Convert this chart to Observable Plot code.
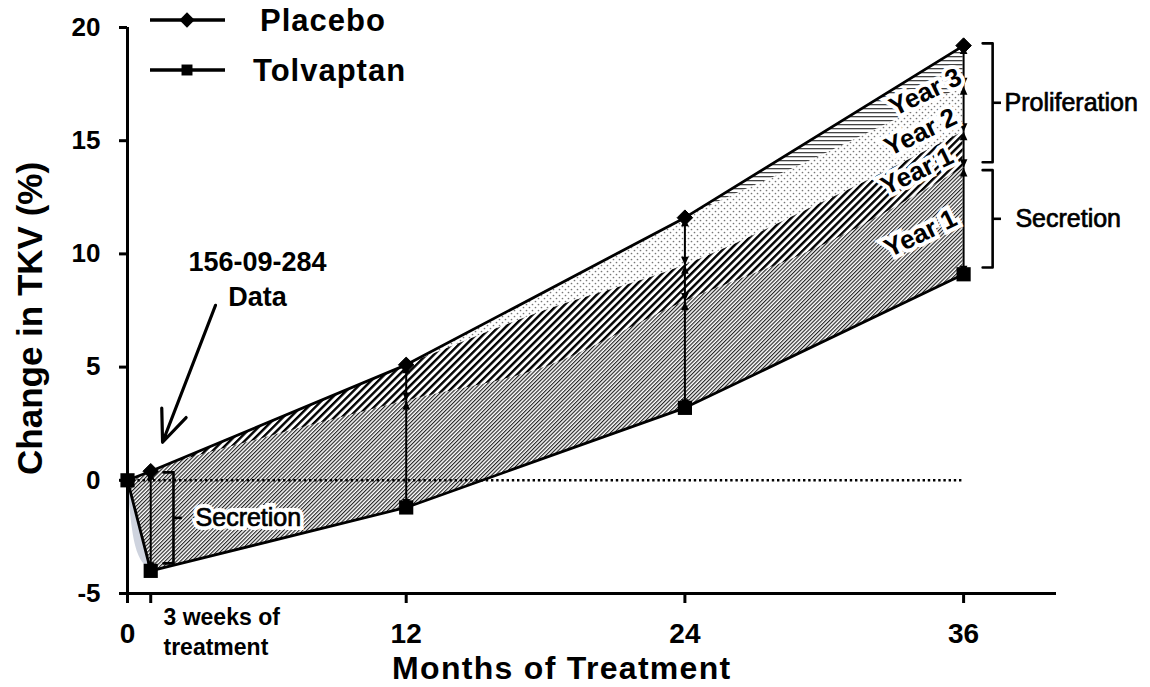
<!DOCTYPE html>
<html><head><meta charset="utf-8">
<script src="https://cdn.jsdelivr.net/npm/d3@7"></script>
<script src="https://cdn.jsdelivr.net/npm/@observablehq/plot@0.6"></script>
<style>
body{margin:0;background:#fff}
#chart svg{font-family:"Liberation Sans",Arial,sans-serif;}
</style></head><body><div id="chart"></div>
<script>
// ---- series ----
const visitMonths = [0, 1, 12, 24, 36];
const placebo = [0, 0.4, 5.1, 11.6, 19.2];
const tolvaptan = [0, -4.0, -1.2, 3.2, 9.1];

// boundaries between the shaded components
const secretionMonths = [0, 1, 6, 12, 18, 24, 30, 36];
const secretionTop = [0, 0.4, 1.9, 3.5, 5.0, 7.9, 10.4, 13.8];
const year1Months = [1, 6, 12, 18, 24, 30, 36];
const year1Top = [0.4, 2.6, 5.1, 7.5, 9.5, 12.3, 15.4];
const year2Months = [12, 18, 24, 30, 36];
const year2Top = [5.1, 8.4, 11.6, 14.4, 17.4];
const year3Months = [24, 36];
const year3Top = [11.6, 19.2];
const shadeMonths = [0, 0.35, 1];
const shadeLow = [0, -2.9, -4.0];
const shadeHigh = [0, -1.4, -4.0];

const xTicks = [0, 1, 12, 24, 36];
const yTicks = [-5, 0, 5, 10, 15, 20];

// vertical double arrows
const arrowX = [1, 12, 12, 24, 24, 24, 36, 36, 36, 36];
const arrowFrom = [-4.0, -1.2, 3.5, 3.2, 7.9, 9.5, 9.1, 13.8, 15.4, 17.4];
const arrowTo = [0.4, 3.5, 5.1, 7.9, 9.5, 11.6, 13.8, 15.4, 17.4, 19.2];

// brackets
const bracketX = [37.25, 37.25, 1.98];
const bracketTop = [19.3, 13.7, 0.35];
const bracketBottom = [14.05, 9.4, -3.67];
const bracketLabels = ["Proliferation", "Secretion", "Secretion"];
const bracketLabelX = [37.76, 38.23, 2.93];

// year labels
const yearLabels = ["Year 3", "Year 2", "Year 1", "Year 1"];
const yearLabelX = [34.36, 34.15, 34.0, 34.15];
const yearLabelY = [17.14, 15.37, 13.65, 10.9];

// data annotation
const noteLines = ["156-09-284", "Data"];
const noteX = [5.6, 5.6];
const noteY = [9.63, 8.08];
const noteArrow = {x1: 3.79, y1: 7.73, x2: 1.51, y2: 1.68};

const legendLabels = ["Placebo", "Tolvaptan"];

// ---- build ----
const FLOOR = -5, CEIL = 20, XMAX = 40;
const rows = (xs, ys) => xs.map((x, i) => ({x, y: ys[i]}));
const band = (xs, lo, hi) => xs.map((x, i) => ({x, y1: Array.isArray(lo) ? lo[i] : lo, y2: Array.isArray(hi) ? hi[i] : hi}));

const arrowSegs = arrowX.map((x, i) => ({x, from: arrowFrom[i], to: arrowTo[i]}));
const headUp = {draw(ctx, size) { const s = Math.sqrt(size); ctx.moveTo(0, 0); ctx.lineTo(-0.45 * s, s); ctx.lineTo(0.45 * s, s); ctx.closePath(); }};
const headDown = {draw(ctx, size) { const s = Math.sqrt(size); ctx.moveTo(0, 0); ctx.lineTo(-0.45 * s, -s); ctx.lineTo(0.45 * s, -s); ctx.closePath(); }};

const CAP = 0.43, MID = 0.36;
const bracketPaths = [];
bracketX.forEach((x, i) => {
  [[x - CAP, bracketTop[i]], [x, bracketTop[i]], [x, bracketBottom[i]], [x - CAP, bracketBottom[i]]]
    .forEach(([px, py]) => bracketPaths.push({b: i, x: px, y: py}));
});
const bracketMids = bracketX.map((x, i) => ({x1: x, x2: x + MID, y: (bracketTop[i] + bracketBottom[i]) / 2, label: bracketLabels[i], lx: bracketLabelX[i], boxed: i === 2}));

const font = '"Liberation Sans", Arial, sans-serif';

const chart = Plot.plot({
  width: 1150, height: 687,
  marginLeft: 127, marginRight: 94, marginTop: 27, marginBottom: 94,
  x: {domain: [0, XMAX]},
  y: {domain: [FLOOR, CEIL]},
  style: {fontFamily: font, background: "white", color: "black"},
  marks: [
    Plot.areaY(band(year3Months, FLOOR, year3Top), {x: "x", y1: "y1", y2: "y2", fill: "url(#pH)"}),
    Plot.areaY(band(year2Months, FLOOR, year2Top), {x: "x", y1: "y1", y2: "y2", fill: "url(#pDots)", curve: "monotone-x"}),
    Plot.areaY(band(year1Months, FLOOR, year1Top), {x: "x", y1: "y1", y2: "y2", fill: "url(#pBold)", curve: "monotone-x"}),
    Plot.areaY(band(secretionMonths, FLOOR, secretionTop), {x: "x", y1: "y1", y2: "y2", fill: "url(#pFine)", curve: "monotone-x"}),
    // white masks outside the placebo / tolvaptan envelope
    Plot.areaY(band(visitMonths, placebo, CEIL), {x: "x", y1: "y1", y2: "y2", fill: "white"}),
    Plot.areaY(band(visitMonths, FLOOR, tolvaptan), {x: "x", y1: "y1", y2: "y2", fill: "white"}),
    Plot.rect([{x1: visitMonths[visitMonths.length - 1], x2: XMAX}], {x1: "x1", x2: "x2", y1: FLOOR, y2: CEIL, fill: "white", inset: -0.5}),
    Plot.areaY(band(shadeMonths, shadeLow, shadeHigh), {x: "x", y1: "y1", y2: "y2", fill: "#b9c0d0", fillOpacity: 0.7, curve: "natural"}),
    Plot.ruleY([0], {x1: 0, x2: 36, stroke: "black", strokeWidth: 2.4, strokeDasharray: "2.4 2.8"}),
    // axes
    Plot.ruleX([0], {y1: FLOOR, y2: CEIL, stroke: "black", strokeWidth: 3}),
    Plot.ruleY([FLOOR], {x1: 0, x2: XMAX, stroke: "black", strokeWidth: 3}),
    Plot.axisY({ticks: yTicks, tickSize: 8, tickPadding: 19, fontSize: 26, fontWeight: "bold", strokeWidth: 3, tickFormat: d => String(d), label: null}),
    Plot.axisX({ticks: xTicks, tickSize: 10, tickPadding: 20, fontSize: 28, fontWeight: "bold", strokeWidth: 3, tickFormat: d => d === 1 ? "" : String(d), label: null}),
    // vertical double arrows
    Plot.ruleX(arrowSegs, {x: "x", y1: "from", y2: "to", stroke: "black", strokeWidth: 2}),
    Plot.dot(arrowSegs, {x: "x", y: "to", symbol: headUp, r: 4.8, fill: "black", stroke: "none"}),
    Plot.dot(arrowSegs, {x: "x", y: "from", symbol: headDown, r: 4.8, fill: "black", stroke: "none"}),
    // series lines and markers
    Plot.line(rows(visitMonths, placebo), {x: "x", y: "y", stroke: "black", strokeWidth: 2.8}),
    Plot.line(rows(visitMonths, tolvaptan), {x: "x", y: "y", stroke: "black", strokeWidth: 2.8}),
    Plot.dot(rows(visitMonths, placebo), {x: "x", y: "y", symbol: "diamond2", r: 7, fill: "black", stroke: "black", strokeWidth: 1}),
    Plot.dot(rows(visitMonths, tolvaptan), {x: "x", y: "y", symbol: "square", r: 8, fill: "black"}),
    // brackets
    Plot.line(bracketPaths, {x: "x", y: "y", z: "b", stroke: "black", strokeWidth: 2.6, curve: "linear"}),
    Plot.link(bracketMids, {x1: "x1", x2: "x2", y1: "y", y2: "y", stroke: "black", strokeWidth: 2.6}),
    Plot.text(bracketMids.filter(d => d.boxed), {x: "lx", y: "y", text: "label", textAnchor: "start", fontSize: 25, fill: "white", stroke: "white", strokeWidth: 8, strokeLinejoin: "miter"}),
    Plot.text(bracketMids, {x: "lx", y: "y", text: "label", textAnchor: "start", fontSize: 25, fill: "black", stroke: "black", strokeWidth: 0.7}),
    // year labels
    Plot.text(yearLabels, {x: (d, i) => yearLabelX[i], y: (d, i) => yearLabelY[i], text: d => d, rotate: -26,
      fontSize: 26, fontWeight: "bold", fill: "black", stroke: "white", strokeWidth: 8, strokeLinejoin: "miter"}),
    // data note
    Plot.text(noteLines, {x: (d, i) => noteX[i], y: (d, i) => noteY[i], text: d => d, fontSize: 27, fontWeight: "bold", fill: "black"}),
    Plot.arrow([noteArrow], {x1: "x1", y1: "y1", x2: "x2", y2: "y2", stroke: "black", strokeWidth: 3.2, headLength: 16, headAngle: 45}),
    // axis titles and footnote
    Plot.text(["3 weeks of\ntreatment"], {frameAnchor: "bottom", x: 1.55, dy: 37, text: d => d, textAnchor: "start", lineAnchor: "middle", lineHeight: 1.3, fontSize: 23, fontWeight: "bold", fill: "black"}),
    Plot.text(["Months of Treatment"], {frameAnchor: "bottom", x: 18.7, dy: 75, text: d => d, textAnchor: "middle", lineAnchor: "middle", fontSize: 32, fontWeight: "bold", fill: "black"}),
    Plot.text(["Change in TKV (%)"], {frameAnchor: "left", y: 7.15, dx: -97, rotate: -90, text: d => d, textAnchor: "middle", lineAnchor: "middle", fontSize: 35, fontWeight: "bold", fill: "black"})
  ]
});

const svg = d3.select(chart);
svg.selectAll("text").filter(function() { return this.textContent === "Months of Treatment"; }).attr("letter-spacing", "1.3px");

// patterns
const defs = svg.insert("defs", ":first-child");
function stripes(id, size, width, color, angle) {
  const p = defs.append("pattern").attr("id", id).attr("patternUnits", "userSpaceOnUse")
    .attr("width", size).attr("height", size).attr("patternTransform", `rotate(${angle})`);
  p.append("rect").attr("width", size).attr("height", size).attr("fill", "white");
  p.append("rect").attr("width", size).attr("height", width).attr("fill", color);
}
stripes("pFine", 2.7, 1.15, "#222", -45);
stripes("pBold", 5.2, 2.4, "#000", -45);
stripes("pH", 4, 1.3, "#444", 0);
const pd = defs.append("pattern").attr("id", "pDots").attr("patternUnits", "userSpaceOnUse").attr("width", 6).attr("height", 6);
pd.append("rect").attr("width", 6).attr("height", 6).attr("fill", "white");
pd.append("circle").attr("cx", 1.5).attr("cy", 1.5).attr("r", 0.85).attr("fill", "#777");
pd.append("circle").attr("cx", 4.5).attr("cy", 4.5).attr("r", 0.85).attr("fill", "#777");

// legend (top-left, inside the frame)
const lg = svg.append("g").attr("font-family", font).attr("font-weight", "bold").attr("font-size", 31).attr("text-anchor", "start");
const legendSymbols = [d3.symbolDiamond2, d3.symbolSquare];
const legendSizes = [150, 120];
const legendY = [20, 70];
const legendTextX = [260, 253];
legendLabels.forEach((label, i) => {
  lg.append("line").attr("x1", 150).attr("x2", 225).attr("y1", legendY[i]).attr("y2", legendY[i]).attr("stroke", "black").attr("stroke-width", 3.5);
  lg.append("path").attr("d", d3.symbol(legendSymbols[i], legendSizes[i])()).attr("transform", `translate(187,${legendY[i]})`).attr("fill", "black");
  lg.append("text").attr("x", legendTextX[i]).attr("y", legendY[i]).attr("dy", "0.36em").attr("fill", "black").attr("letter-spacing", "1px").text(label);
});

document.getElementById("chart").appendChild(chart);
</script></body></html>
